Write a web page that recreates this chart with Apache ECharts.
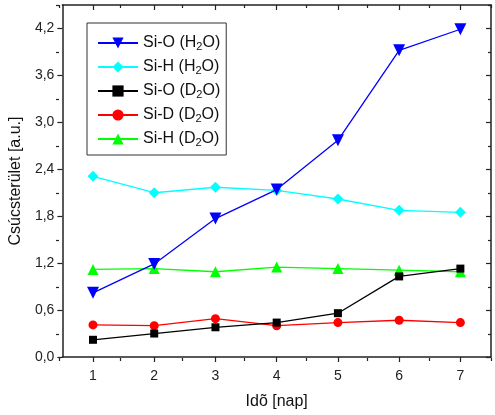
<!DOCTYPE html>
<html><head><meta charset="utf-8">
<script src="https://cdn.jsdelivr.net/npm/echarts@6/dist/echarts.min.js"></script>
<style>html,body{margin:0;padding:0;background:#fff}#c{width:495px;height:415px}</style>
</head><body><div id="c"></div>
<script>
const days = [1, 2, 3, 4, 5, 6, 7];
const siO_H2O = [0.82, 1.19, 1.77, 2.14, 2.77, 3.92, 4.19];
const siH_H2O = [2.31, 2.10, 2.17, 2.13, 2.02, 1.875, 1.85];
const siO_D2O = [0.22, 0.30, 0.38, 0.44, 0.56, 1.03, 1.13];
const siD_D2O = [0.41, 0.40, 0.49, 0.40, 0.44, 0.47, 0.44];
const siH_D2O = [1.12, 1.13, 1.09, 1.15, 1.13, 1.11, 1.09];
const seriesNames = ['Si-O (H2O)', 'Si-H (H2O)', 'Si-O (D2O)', 'Si-D (D2O)', 'Si-H (D2O)'];
const xMajorTicks = [1, 2, 3, 4, 5, 6, 7];
const xMinorTicks = [0.5, 1.5, 2.5, 3.5, 4.5, 5.5, 6.5, 7.5];
const yMajorTicks = [0, 0.6, 1.2, 1.8, 2.4, 3.0, 3.6, 4.2];
const yMinorTicks = [0.3, 0.9, 1.5, 2.1, 2.7, 3.3, 3.9, 4.5];
const xLabel = 'Idõ [nap]';
const yLabel = 'Csúcsterület [a.u.]';

const FONT = 'Liberation Sans, Arial, sans-serif';
const AX = '#222';
const gridRect = { left: 59, right: 4, top: 5, bottom: 57 };
const pair = ys => days.map((d, i) => [d, ys[i]]);

function xAx(grid, pos, ticks, len, showLine, showLabel, inside) {
  const a = {
    gridIndex: grid, type: 'value', position: pos, min: 0.5, max: 7.5,
    axisLine: { show: showLine, onZero: false, lineStyle: { color: AX, width: 1.5 } },
    axisTick: { show: true, customValues: ticks, length: len, inside: inside, lineStyle: { color: AX, width: 1.2 } },
    axisLabel: { show: showLabel },
    splitLine: { show: false }
  };
  if (showLabel) {
    a.axisLabel = { show: true, customValues: ticks, margin: 12, fontSize: 14, color: '#222', fontFamily: FONT,
      formatter: v => String(v) };
    a.name = xLabel; a.nameLocation = 'middle'; a.nameGap = 37;
    a.nameTextStyle = { fontSize: 16, color: '#111', fontFamily: FONT };
  }
  return a;
}
function yAx(grid, pos, ticks, len, showLine, showLabel, inside) {
  const a = {
    gridIndex: grid, type: 'value', position: pos, min: 0, max: 4.5,
    axisLine: { show: showLine, onZero: false, lineStyle: { color: AX, width: 1.5 } },
    axisTick: { show: true, customValues: ticks, length: len, inside: inside, lineStyle: { color: AX, width: 1.2 } },
    axisLabel: { show: showLabel },
    splitLine: { show: false }
  };
  if (showLabel) {
    a.axisLabel = { show: true, customValues: ticks, margin: 8, fontSize: 14, color: '#222', fontFamily: FONT,
      formatter: v => v.toFixed(1).replace('.', ',') };
    a.name = yLabel; a.nameLocation = 'middle'; a.nameGap = 30; a.nameRotate = 90;
    a.nameTextStyle = { fontSize: 16, color: '#111', fontFamily: FONT };
  }
  return a;
}

const styles = [
  { color: '#0000ff', symbol: 'triangle', size: 12, rotate: 180, data: siO_H2O },
  { color: '#00ffff', symbol: 'diamond', size: 11, rotate: 0, data: siH_H2O },
  { color: '#000000', symbol: 'rect', size: 8, rotate: 0, data: siO_D2O },
  { color: '#ff0000', symbol: 'circle', size: 9, rotate: 0, data: siD_D2O },
  { color: '#00ff00', symbol: 'triangle', size: 11, rotate: 0, data: siH_D2O }
];

const chart = echarts.init(document.getElementById('c'), null, { renderer: 'canvas' });
chart.setOption({
  animation: false,
  backgroundColor: '#fff',
  grid: [Object.assign({}, gridRect), Object.assign({}, gridRect)],
  xAxis: [
    xAx(0, 'bottom', xMajorTicks, 5, true, true, false),
    xAx(0, 'top', xMajorTicks, 5, true, false, true),
    xAx(1, 'bottom', xMinorTicks, 3, false, false, false),
    xAx(1, 'top', xMinorTicks, 3, false, false, true)
  ],
  yAxis: [
    yAx(0, 'left', yMajorTicks, 5, true, true, false),
    yAx(0, 'right', yMajorTicks, 5, true, false, true),
    yAx(1, 'left', yMinorTicks, 3, false, false, false),
    yAx(1, 'right', yMinorTicks, 3, false, false, true)
  ],
  legend: {
    data: seriesNames, orient: 'vertical', left: 87, top: 23,
    padding: [12, 6, 7, 10], itemGap: 7, itemWidth: 40, itemHeight: 14,
    borderColor: '#333', borderWidth: 1, backgroundColor: '#fff',
    textStyle: {
      fontFamily: FONT, color: '#111', fontSize: 16,
      rich: {
        a: { fontFamily: FONT, fontSize: 16, color: '#111', lineHeight: 18 },
        s: { fontFamily: FONT, fontSize: 11, color: '#111', lineHeight: 6, verticalAlign: 'bottom' }
      }
    },
    formatter: name => { const p = name.split('2'); return '{a|' + p[0] + '}{s|2}{a|' + p[1] + '}'; }
  },
  series: styles.map((s, i) => ({
    name: seriesNames[i], type: 'line', xAxisIndex: 0, yAxisIndex: 0,
    data: pair(s.data), symbol: s.symbol, symbolSize: s.size, symbolRotate: s.rotate,
    showAllSymbol: true,
    itemStyle: { color: s.color },
    lineStyle: { color: s.color, width: 1.3 },
    z: 10 - i
  }))
});
</script></body></html>
